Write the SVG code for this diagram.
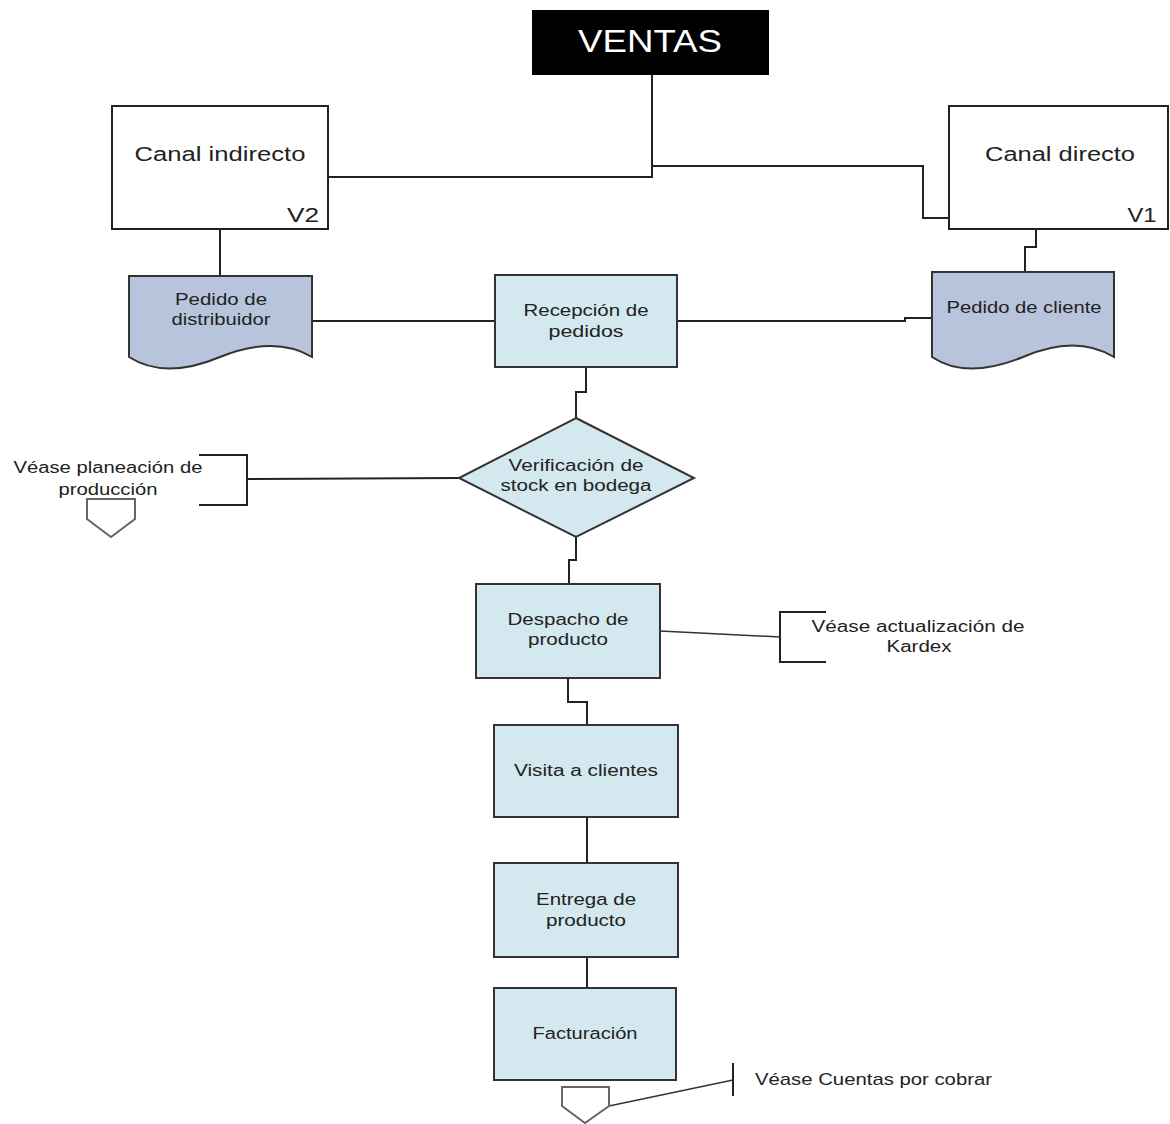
<svg xmlns="http://www.w3.org/2000/svg" width="1170" height="1124" viewBox="0 0 1170 1124">
<style>
  text { font-family: "Liberation Sans", Arial, sans-serif; fill: #222; }
  .lbl { font-size: 16px; text-anchor: middle; }
  .big { font-size: 20px; text-anchor: middle; }
  .ref { font-size: 17px; }
  .box { fill: #ffffff; stroke: #222; stroke-width: 2; }
  .proc { fill: #d3e8ef; stroke: #333; stroke-width: 2; }
  .doc { fill: #b8c4dc; stroke: #333; stroke-width: 2; }
  .conn { fill: none; stroke: #222; stroke-width: 2; }
  .thin { fill: none; stroke: #333; stroke-width: 1.5; }
  .off { fill: #ffffff; stroke: #666; stroke-width: 2; }
</style>
<rect width="1170" height="1124" fill="#ffffff"/>

<g id="connectors">
  <polyline class="conn" points="652,75 652,177 328,177"/>
  <polyline class="conn" points="652,166 923,166 923,218 949,218"/>
  <line class="conn" x1="220" y1="229" x2="220" y2="276"/>
  <polyline class="conn" points="1036,229 1036,247 1025,247 1025,272"/>
  <line class="conn" x1="312" y1="321" x2="495" y2="321"/>
  <polyline class="conn" points="677,321 905,321 905,318 932,318"/>
  <polyline class="conn" points="586,367 586,392 576,392 576,418"/>
  <line class="conn" x1="459" y1="478" x2="247" y2="479"/>
  <polyline class="conn" points="576,537 576,560 569,560 569,584"/>
  <line class="thin" x1="660" y1="631" x2="780" y2="637"/>
  <polyline class="conn" points="568,678 568,702 587,702 587,725"/>
  <line class="conn" x1="587" y1="817" x2="587" y2="863"/>
  <line class="conn" x1="587" y1="957" x2="587" y2="988"/>
  <line class="thin" x1="609" y1="1106" x2="733" y2="1080"/>
</g>

<g id="ventas">
  <rect x="532" y="10" width="237" height="65" fill="#000000"/>
  <text x="650" y="52" style="font-size:31px;fill:#ffffff;text-anchor:middle" textLength="144" lengthAdjust="spacingAndGlyphs">VENTAS</text>
</g>

<g id="canal-indirecto">
  <rect class="box" x="112" y="106" width="216" height="123"/>
  <text class="big" x="220" y="161" textLength="171" lengthAdjust="spacingAndGlyphs">Canal indirecto</text>
  <text class="big" x="303" y="222" textLength="32" lengthAdjust="spacingAndGlyphs">V2</text>
</g>

<g id="canal-directo">
  <rect class="box" x="949" y="106" width="219" height="123"/>
  <text class="big" x="1060" y="161" textLength="150" lengthAdjust="spacingAndGlyphs">Canal directo</text>
  <text class="big" x="1142" y="222" textLength="29" lengthAdjust="spacingAndGlyphs">V1</text>
</g>

<g id="pedido-distribuidor">
  <path class="doc" d="M129,276 H312 V357 Q275,335 220,357 Q165,380 129,357 Z"/>
  <text class="lbl" x="221" y="305" textLength="92" lengthAdjust="spacingAndGlyphs">Pedido de</text>
  <text class="lbl" x="221" y="325" textLength="99" lengthAdjust="spacingAndGlyphs">distribuidor</text>
</g>

<g id="recepcion">
  <rect class="proc" x="495" y="275" width="182" height="92"/>
  <text class="lbl" x="586" y="316" textLength="125" lengthAdjust="spacingAndGlyphs">Recepción de</text>
  <text class="lbl" x="586" y="337" textLength="75" lengthAdjust="spacingAndGlyphs">pedidos</text>
</g>

<g id="pedido-cliente">
  <path class="doc" d="M932,272 H1114 V357 Q1076,334 1023,357 Q966,380 932,357 Z"/>
  <text class="lbl" x="1024" y="313" textLength="155" lengthAdjust="spacingAndGlyphs">Pedido de cliente</text>
</g>

<g id="verificacion">
  <polygon class="proc" points="576,418 694,478 576,537 459,478"/>
  <text class="lbl" x="576" y="471" textLength="135" lengthAdjust="spacingAndGlyphs">Verificación de</text>
  <text class="lbl" x="576" y="491" textLength="151" lengthAdjust="spacingAndGlyphs">stock en bodega</text>
</g>

<g id="ref-planeacion">
  <polyline class="conn" points="199,455 247,455 247,505 199,505"/>
  <text class="lbl" x="108" y="473" textLength="189" lengthAdjust="spacingAndGlyphs">Véase planeación de</text>
  <text class="lbl" x="108" y="495" textLength="99" lengthAdjust="spacingAndGlyphs">producción</text>
  <polygon class="off" points="87,499 135,499 135,519 111,537 87,519"/>
</g>

<g id="despacho">
  <rect class="proc" x="476" y="584" width="184" height="94"/>
  <text class="lbl" x="568" y="625" textLength="121" lengthAdjust="spacingAndGlyphs">Despacho de</text>
  <text class="lbl" x="568" y="645" textLength="80" lengthAdjust="spacingAndGlyphs">producto</text>
</g>

<g id="ref-kardex">
  <polyline class="conn" points="826,612 780,612 780,662 826,662"/>
  <text class="lbl" x="918" y="632" textLength="213" lengthAdjust="spacingAndGlyphs">Véase actualización de</text>
  <text class="lbl" x="919" y="652" textLength="65" lengthAdjust="spacingAndGlyphs">Kardex</text>
</g>

<g id="visita">
  <rect class="proc" x="494" y="725" width="184" height="92"/>
  <text class="lbl" x="586" y="776" textLength="144" lengthAdjust="spacingAndGlyphs">Visita a clientes</text>
</g>

<g id="entrega">
  <rect class="proc" x="494" y="863" width="184" height="94"/>
  <text class="lbl" x="586" y="905" textLength="100" lengthAdjust="spacingAndGlyphs">Entrega de</text>
  <text class="lbl" x="586" y="926" textLength="80" lengthAdjust="spacingAndGlyphs">producto</text>
</g>

<g id="facturacion">
  <rect class="proc" x="494" y="988" width="182" height="92"/>
  <text class="lbl" x="585" y="1039" textLength="105" lengthAdjust="spacingAndGlyphs">Facturación</text>
</g>

<g id="ref-cuentas">
  <line class="conn" x1="733" y1="1063" x2="733" y2="1096"/>
  <text class="ref" x="755" y="1085" textLength="237" lengthAdjust="spacingAndGlyphs">Véase Cuentas por cobrar</text>
  <polygon class="off" points="562,1087 609,1087 609,1106 585,1123 562,1106"/>
</g>
</svg>
